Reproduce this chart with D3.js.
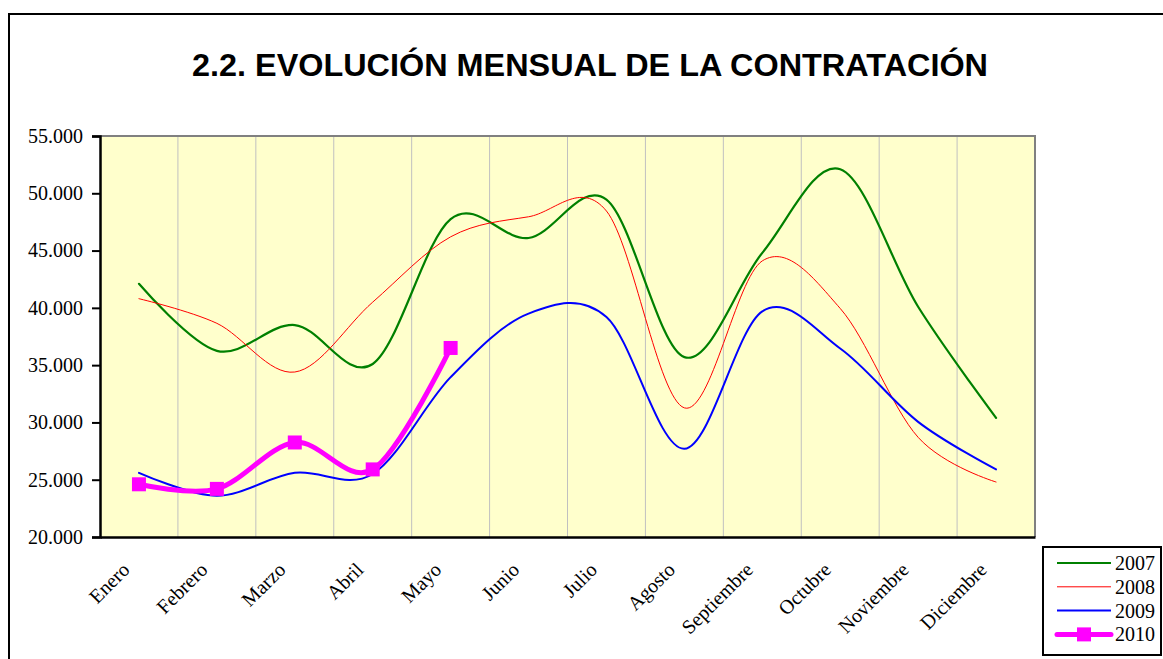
<!DOCTYPE html>
<html>
<head>
<meta charset="utf-8">
<script src="https://cdn.jsdelivr.net/npm/d3@7"></script>
<style>
  html, body { margin: 0; padding: 0; background: #fff; }
  svg { display: block; }
</style>
</head>
<body>
<svg id="chart" width="1163" height="659"></svg>
<script>
const months = ["Enero","Febrero","Marzo","Abril","Mayo","Junio","Julio","Agosto","Septiembre","Octubre","Noviembre","Diciembre"];
const v2007 = [42100, 36250, 38500, 35100, 47750, 46100, 49450, 35700, 44800, 52100, 40100, 30400];
const v2008 = [40800, 38650, 34400, 40500, 46200, 47950, 48450, 31270, 44100, 39950, 28700, 24800];
const v2009 = [25600, 23600, 25600, 25500, 33950, 39500, 39200, 27700, 39700, 36450, 30050, 25900];
const v2010 = [24600, 24200, 28250, 25900, 36500];
const yTicks = [20000, 25000, 30000, 35000, 40000, 45000, 50000, 55000];
const seriesNames = ["2007", "2008", "2009", "2010"];
const title = "2.2. EVOLUCIÓN MENSUAL DE LA CONTRATACIÓN";

const series = [
  { name: seriesNames[0], values: v2007, color: "#008000", width: 2.2, marker: false },
  { name: seriesNames[1], values: v2008, color: "#FF0000", width: 1, marker: false },
  { name: seriesNames[2], values: v2009, color: "#0000FF", width: 2, marker: false },
  { name: seriesNames[3], values: v2010, color: "#FF00FF", width: 5, marker: true }
];

const serif = "'Liberation Serif', 'Times New Roman', serif";
const svg = d3.select("#chart");
const plot = { left: 100, right: 1035, top: 136, bottom: 537 };

// outer frame
svg.append("rect").attr("x", 9).attr("y", 14).attr("width", 1200).attr("height", 700)
  .attr("fill", "#fff").attr("stroke", "#000").attr("stroke-width", 2);

// title
svg.append("text").attr("x", 590).attr("y", 76)
  .attr("text-anchor", "middle")
  .attr("font-family", "'Liberation Sans', Arial, sans-serif")
  .attr("font-weight", "bold").attr("font-size", 32)
  .attr("textLength", 796).attr("lengthAdjust", "spacingAndGlyphs")
  .text(title);

const x = d3.scaleBand().domain(months).range([plot.left, plot.right]).padding(0);
const y = d3.scaleLinear().domain([20000, 55000]).range([plot.bottom, plot.top]);

// plot background
svg.append("rect").attr("x", plot.left).attr("y", plot.top)
  .attr("width", plot.right - plot.left).attr("height", plot.bottom - plot.top)
  .attr("fill", "#FFFFCC");

// vertical gridlines at category boundaries
svg.append("g").selectAll("line").data(months.slice(1)).join("line")
  .attr("x1", d => x(d)).attr("x2", d => x(d))
  .attr("y1", plot.top).attr("y2", plot.bottom)
  .attr("stroke", "#C0C0C0").attr("stroke-width", 1);

// top and right border (gray)
svg.append("path")
  .attr("d", `M${plot.left},${plot.top}H${plot.right}V${plot.bottom}`)
  .attr("fill", "none").attr("stroke", "#808080").attr("stroke-width", 2);

// y axis
const fmt = d => d3.format(",")(d).replace(/,/g, ".");
const yAxis = d3.axisLeft(y).tickValues(yTicks).tickFormat(fmt).tickSize(8).tickPadding(9);
const gy = svg.append("g").attr("transform", `translate(${plot.left},0)`).call(yAxis);
gy.attr("font-family", serif);
gy.select(".domain").attr("stroke", "#000").attr("stroke-width", 2.5);
gy.selectAll(".tick line").attr("stroke", "#000").attr("stroke-width", 2);
gy.selectAll(".tick text").attr("font-family", serif)
  .attr("font-size", 20).attr("fill", "#000");

// x axis
const xAxis = d3.axisBottom(x).tickSize(0).tickFormat(d => d);
const gx = svg.append("g").attr("transform", `translate(0,${plot.bottom})`).call(xAxis);
gx.attr("font-family", serif);
gx.select(".domain").attr("stroke", "#000").attr("stroke-width", 2.5);
gx.selectAll(".tick text")
  .attr("font-family", serif)
  .attr("font-size", 20).attr("fill", "#000")
  .attr("text-anchor", "end")
  .attr("x", 0).attr("y", 0).attr("dy", "0.35em")
  .attr("transform", "translate(-13,29) rotate(-45)");

// lines
const line = d3.line()
  .x((d, i) => x(months[i]) + x.bandwidth() / 2)
  .y(d => y(d))
  .curve(d3.curveCatmullRom.alpha(0));

const gl = svg.append("g");
series.forEach(s => {
  gl.append("path").datum(s.values)
    .attr("d", line)
    .attr("fill", "none")
    .attr("stroke", s.color)
    .attr("stroke-width", s.width)
    .attr("stroke-linejoin", "round")
    .attr("stroke-linecap", "round");
  if (s.marker) {
    gl.selectAll(null).data(s.values).join("rect")
      .attr("x", (d, i) => x(months[i]) + x.bandwidth() / 2 - 7)
      .attr("y", d => y(d) - 7)
      .attr("width", 14).attr("height", 14)
      .attr("fill", s.color);
  }
});

// legend
const lg = svg.append("g");
lg.append("rect").attr("x", 1043).attr("y", 547).attr("width", 118).attr("height", 108)
  .attr("fill", "#fff").attr("stroke", "#000").attr("stroke-width", 2);
series.forEach((s, i) => {
  const ly = 563 + i * 23.8;
  lg.append("line").attr("x1", 1057).attr("x2", 1111).attr("y1", ly).attr("y2", ly)
    .attr("stroke", s.color).attr("stroke-width", s.width).attr("stroke-linecap", s.marker ? "round" : "butt");
  if (s.marker) {
    lg.append("rect").attr("x", 1084 - 7).attr("y", ly - 7).attr("width", 14).attr("height", 14)
      .attr("fill", s.color);
  }
  lg.append("text").attr("x", 1115).attr("y", ly).attr("dy", "0.35em")
    .attr("font-family", serif)
    .attr("font-size", 20).attr("fill", "#000")
    .text(s.name);
});
</script>
</body>
</html>
